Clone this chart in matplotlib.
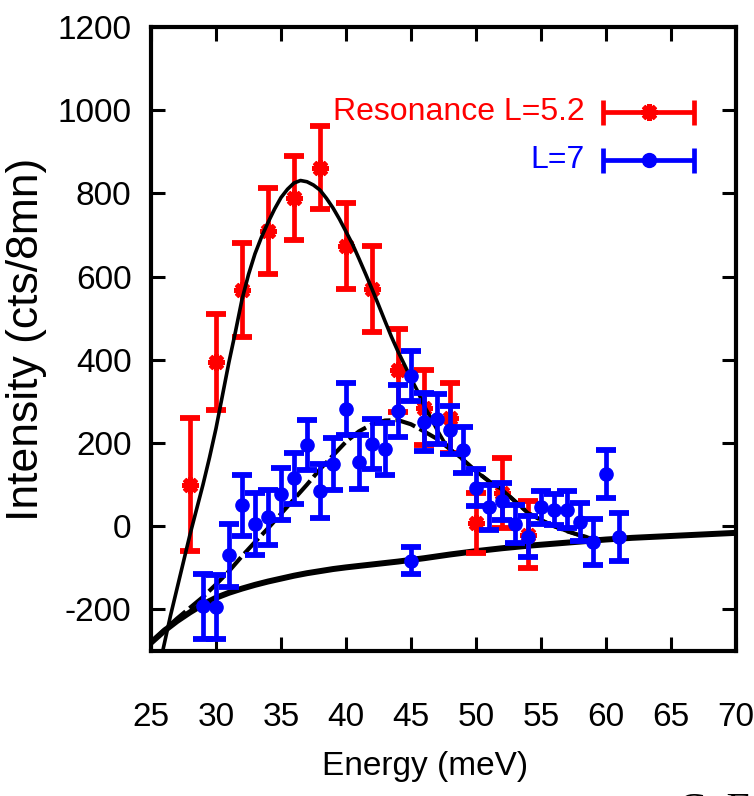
import matplotlib
matplotlib.use("Agg")
import matplotlib.pyplot as plt

plt.rcParams['font.family'] = ['Liberation Sans', 'DejaVu Sans']
plt.rcParams['axes.unicode_minus'] = False

# ---- data: Resonance L=5.2 (red) ----
E_red = [28, 30, 32, 34, 36, 38, 40, 42, 44, 46, 48, 50, 52, 54]
I_red = [100, 395, 568, 710, 789, 862, 673, 571, 375, 285, 260, 8, 80, -20]
err_red = [160, 116, 112, 103, 100, 99, 103, 103, 100, 90, 85, 73, 85, 80]

# ---- data: L=7 (blue) ----
E_blue = [29, 30, 31, 32, 33, 34, 35, 36, 37, 38, 39, 40, 41, 42, 43, 44, 45, 45,
          46, 47, 48, 49, 50, 51, 52, 53, 54, 55, 56, 57, 58, 59, 60, 61]
I_blue = [-193, -195, -70, 50, 5, 22, 78, 115, 195, 85, 150, 282, 155, 197, 185, 277, 362, -83,
          250, 258, 232, 183, 93, 45, 60, 5, -25, 45, 40, 40, 10, -38, 125, -26]
err_blue = [77, 77, 75, 73, 74, 66, 62, 62, 60, 65, 62, 62, 65, 60, 63, 62, 60, 32,
            70, 60, 58, 56, 45, 55, 45, 45, 50, 40, 38, 45, 45, 55, 58, 57]

# ---- fit curves ----
E_fit_red = [25.9, 26.5, 27, 27.5, 28, 28.5, 29, 29.5, 30, 30.5, 31, 31.5, 32, 32.5, 33, 33.5,
             34, 34.5, 35, 35.5, 36, 36.5, 37, 37.5, 38, 38.5, 39, 39.5, 40, 40.5, 41, 41.5,
             42, 42.5, 43, 43.5, 44, 44.5, 45, 45.5, 46, 46.5, 47, 47.5, 48, 49, 50, 51, 52,
             53, 54, 55, 56, 57, 58, 59, 60, 62, 64, 66, 68, 70]
I_fit_red = [-300, -215, -150, -85, -20, 40, 100, 165, 235, 315, 395, 468, 545, 605, 655, 695,
             730, 762, 790, 810, 825, 831, 828, 820, 808, 788, 765, 738, 708, 678, 643, 607,
             570, 532, 493, 455, 420, 388, 355, 325, 290, 262, 232, 205, 185, 160, 132, 108, 88,
             60, 32, 15, 0, -12, -22, -30, -32, -28, -25, -22, -19, -16]

E_fit_blue = [25, 26, 27, 28, 29, 30, 31, 32, 33, 34, 35, 36, 37, 38, 39, 40, 41, 42, 43, 44,
              45, 46, 47, 48, 49, 50, 51, 52, 53, 54, 55, 56, 57, 58, 59, 60, 62, 64, 66, 68, 70]
I_fit_blue = [-280, -250, -222, -196, -170, -140, -108, -72, -38, -5, 30, 65, 100, 137, 170,
              203, 228, 245, 254, 255, 245, 228, 210, 185, 160, 132, 108, 88, 60, 32, 15, 0,
              -12, -22, -30, -32, -28, -25, -22, -19, -16]

E_bg = [25, 26, 27, 28, 29, 30, 31, 32, 33, 34, 35, 36, 37, 38, 39, 40, 42, 44, 46, 48, 50,
        52, 54, 56, 58, 60, 62, 64, 66, 68, 70]
I_bg = [-280, -252, -228, -207, -188, -172, -160, -150, -141, -133, -126, -119, -113, -108,
        -103, -99, -92, -85, -77, -68, -60, -53, -47, -42, -37, -32, -28, -25, -22, -19, -16]

x_ticks = [25, 30, 35, 40, 45, 50, 55, 60, 65, 70]
y_ticks = [-200, 0, 200, 400, 600, 800, 1000, 1200]

RED = '#ff0000'
BLUE = '#0000ff'
STAR = (8, 2, 0)

fig = plt.figure(figsize=(7.54, 7.96), dpi=100)
ax = fig.add_axes([151 / 754, 1 - 651 / 796, 585 / 754, 624 / 796])

# background curve
ax.plot(E_bg, I_bg, color='black', lw=4.3, zorder=1, solid_capstyle='butt')
# L=7 fit (dashed)
ax.plot(E_fit_blue, I_fit_blue, color='black', lw=3.0, ls=(0, (5, 1.2)), zorder=2)

# red data
ax.errorbar(E_red, I_red, yerr=err_red, fmt='none', ecolor=RED, elinewidth=3.4,
            capsize=7, capthick=4.2, zorder=3)
ax.plot(E_red, I_red, ls='none', marker=STAR, ms=12, mew=3.6, color=RED, zorder=3)

# red fit
ax.plot(E_fit_red, I_fit_red, color='black', lw=2.6, zorder=4)

# blue data
ax.errorbar(E_blue, I_blue, yerr=err_blue, fmt='o', color=BLUE, ms=9.5, elinewidth=3.4,
            capsize=7, capthick=4.2, zorder=5)

ax.set_xlim(25, 70)
ax.set_ylim(-300, 1200)
ax.set_xticks(x_ticks)
ax.set_yticks(y_ticks)
ax.tick_params(direction='in', top=True, right=True, length=10, width=2.2,
               labelsize=24, colors='black')
ax.tick_params(axis='x', pad=37)
ax.tick_params(axis='y', pad=14)
for s in ax.spines.values():
    s.set_linewidth(3)

ax.set_xlabel('Energy (meV)', fontsize=24)
ax.xaxis.set_label_coords(0.468, -0.16)
ax.set_ylabel('Intensity (cts/8mn)', fontsize=32)
ax.yaxis.set_label_coords(-0.178, 0.5)

# legend (gnuplot style: text right, horizontal error bar sample)
leg = [("Resonance L=5.2", RED, STAR, 0.864), ("L=7", BLUE, 'o', 0.787)]
for label, col, mk, yy in leg:
    ax.text(0.742, yy, label, transform=ax.transAxes, ha='right', va='center',
            color=col, fontsize=23)
    ax.errorbar([0.851], [yy], xerr=[0.078], transform=ax.transAxes, fmt='none',
                ecolor=col, elinewidth=3.4, capsize=9, capthick=3.4, clip_on=False)
    ax.plot([0.851], [yy], transform=ax.transAxes, marker=mk, ms=12 if mk != 'o' else 10,
            mew=3.6 if mk != 'o' else 1, color=col, clip_on=False)

fig.text(678 / 754, 1 - 822 / 796, 'C. F', fontsize=30, family='Liberation Serif',
         ha='left', va='baseline')

fig.savefig('out.png', dpi=100)
